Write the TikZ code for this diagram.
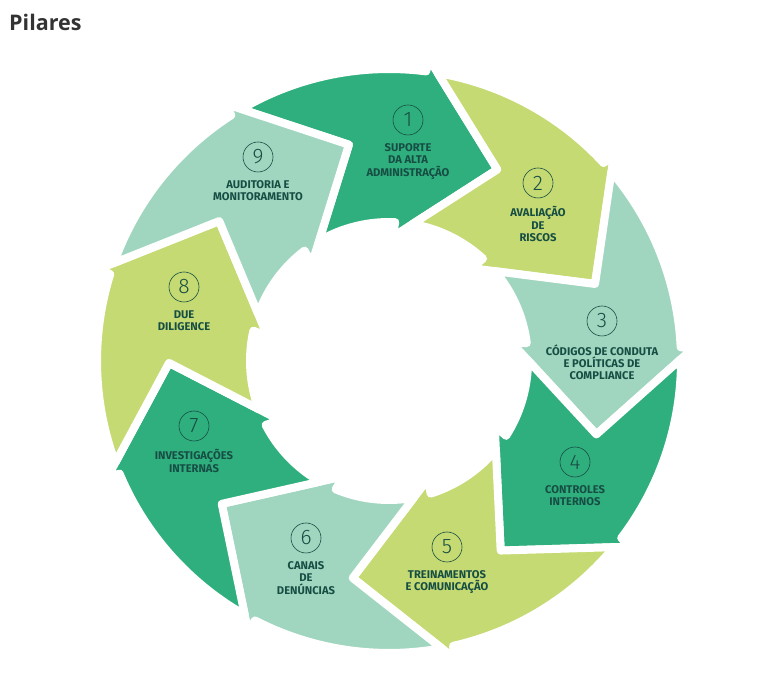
\documentclass[tikz,border=0pt]{standalone}
\usepackage{fontspec}
\usetikzlibrary{positioning}
\setmainfont{Fira Sans}
\newfontfamily\titlefont{Open Sans}
\newfontfamily\numfont{Fira Sans Light}

\definecolor{pilardark}{RGB}{48,175,126}
\definecolor{pilarlime}{RGB}{197,218,114}
\definecolor{pilarmint}{RGB}{160,214,191}
\definecolor{pilartext}{RGB}{22,78,68}

\begin{document}
\begin{tikzpicture}[x=1pt, y=1pt,
  pilar/.style={draw=white, line width=8pt, line join=round},
  num/.style={circle, draw=pilartext, line width=0.6pt, minimum size=30pt, inner sep=0pt,
    text=pilartext, font=\numfont\fontsize{21}{21}\selectfont},
  lbl/.style={align=center, inner sep=0pt, text=pilartext,
    font=\bfseries\fontsize{11.2}{12.3}\selectfont}]
  \useasboundingbox (0,0) rectangle (772,678);
  \node[anchor=base west, inner sep=0pt, text=black!80,
    font=\titlefont\bfseries\fontsize{21.5}{22}\selectfont] (title) at (9,647) {Pilares};

  % ring of nine arrows, each one turned 40 degrees further
  \begin{scope}[shift={(389,317)}]
    \foreach \n/\cor in {1/pilardark, 2/pilarlime, 3/pilarmint, 4/pilardark, 5/pilarlime,
                         6/pilarmint, 7/pilardark, 8/pilarlime, 9/pilarmint}{
      \pgfmathsetmacro{\rot}{60.5-40*(\n-1)}
      \begin{scope}[rotate=\rot]
        \draw[pilar, fill=\cor] (59.89:292) arc[start angle=59.89, end angle=22.18, radius=292pt]
          -- (22:305) -- (0:220) -- (28:124) -- (26.9:139)
          arc[start angle=26.9, end angle=59.75, radius=139pt] -- (40:220) -- cycle;
      \end{scope}
    }
  \end{scope}

  % numbers and texts
  \node[num] (n1) at (408,558) {1};
  \node[lbl, below=8pt of n1] (t1) {SUPORTE\\DA ALTA\\ADMINISTRAÇÃO};
  \node[num] (n2) at (538,495) {2};
  \node[lbl, below=8pt of n2] (t2) {AVALIAÇÃO\\DE\\RISCOS};
  \node[num] (n3) at (602,357) {3};
  \node[lbl, below=8pt of n3] (t3) {CÓDIGOS DE CONDUTA\\E POLÍTICAS DE\\COMPLIANCE};
  \node[num] (n4) at (575,216) {4};
  \node[lbl, below=8pt of n4] (t4) {CONTROLES\\INTERNOS};
  \node[num] (n5) at (447,131) {5};
  \node[lbl, below=8pt of n5] (t5) {TREINAMENTOS\\E COMUNICAÇÃO};
  \node[num] (n6) at (306,140) {6};
  \node[lbl, below=8pt of n6] (t6) {CANAIS\\DE\\DENÚNCIAS};
  \node[num] (n7) at (194,252) {7};
  \node[lbl, below=8pt of n7] (t7) {INVESTIGAÇÕES\\INTERNAS};
  \node[num] (n8) at (184,391) {8};
  \node[lbl, below=8pt of n8] (t8) {DUE\\DILIGENCE};
  \node[num] (n9) at (258,521) {9};
  \node[lbl, below=8pt of n9] (t9) {AUDITORIA E\\MONITORAMENTO};
\end{tikzpicture}
\end{document}
